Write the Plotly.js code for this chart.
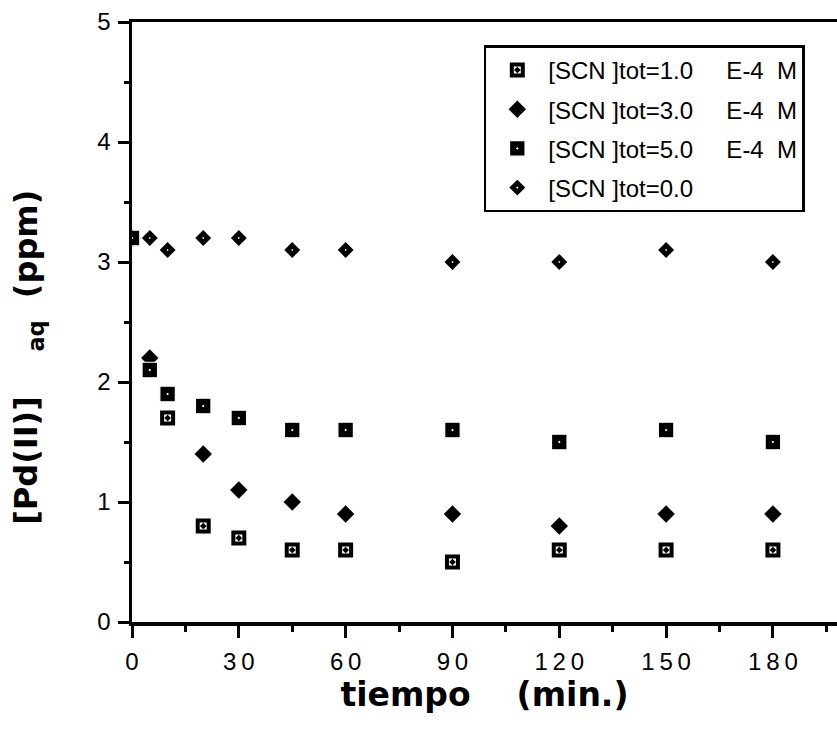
<!DOCTYPE html>
<html>
<head>
<meta charset="utf-8">
<script src="https://cdn.plot.ly/plotly-3.0.1.min.js"></script>
<style>html,body{margin:0;padding:0;background:#fff;}#chart{width:837px;height:739px;}</style>
</head>
<body>
<div id="chart"></div>
<script>
// Data
var time1 = [0, 10, 20, 30, 45, 60, 90, 120, 150, 180];
var conc1 = [3.2, 1.7, 0.8, 0.7, 0.6, 0.6, 0.5, 0.6, 0.6, 0.6];

var time3 = [0, 5, 20, 30, 45, 60, 90, 120, 150, 180];
var conc3 = [3.2, 2.2, 1.4, 1.1, 1.0, 0.9, 0.9, 0.8, 0.9, 0.9];

var time5 = [0, 5, 10, 20, 30, 45, 60, 90, 120, 150, 180];
var conc5 = [3.2, 2.1, 1.9, 1.8, 1.7, 1.6, 1.6, 1.6, 1.5, 1.6, 1.5];

var time0 = [0, 5, 10, 20, 30, 45, 60, 90, 120, 150, 180];
var conc0 = [3.2, 3.2, 3.1, 3.2, 3.2, 3.1, 3.1, 3.0, 3.0, 3.1, 3.0];

var seriesNames = [
  "[SCN ]tot=1.0\u00a0\u00a0\u00a0\u00a0\u00a0E-4\u00a0\u00a0M",
  "[SCN ]tot=3.0\u00a0\u00a0\u00a0\u00a0\u00a0E-4\u00a0\u00a0M",
  "[SCN ]tot=5.0\u00a0\u00a0\u00a0\u00a0\u00a0E-4\u00a0\u00a0M",
  "[SCN ]tot=0.0"
];

var xTickVals = [0, 30, 60, 90, 120, 150, 180];
var xTickText = ["0", "3\u20090", "6\u20090", "9\u20090", "1\u20092\u20090", "1\u20095\u20090", "1\u20098\u20090"];
var yTickVals = [0, 1, 2, 3, 4, 5];
var yTickText = ["0", "1", "2", "3", "4", "5"];

var xTitle = "tiempo\u00a0\u00a0\u00a0\u00a0(min.)";
var yTitle = "[Pd(II)]\u00a0\u00a0\u00a0\u00a0<sub>aq</sub>\u00a0\u00a0(ppm)";

var traces = [
  {
    x: time1, y: conc1, name: seriesNames[0], type: "scatter", mode: "markers",
    legendgroup: "g1", legendrank: 1,
    marker: {symbol: "square-open-dot", size: 11, color: "#000", line: {color: "#000", width: 4}}
  },
  {
    x: time3, y: conc3, name: seriesNames[1], type: "scatter", mode: "markers",
    legendgroup: "g3", legendrank: 2,
    marker: {symbol: "diamond", size: 13, color: "#000", line: {color: "#000", width: 0.5}}
  },
  {
    x: time0, y: conc0, name: seriesNames[3], type: "scatter", mode: "markers",
    legendgroup: "g0", legendrank: 4,
    marker: {symbol: "diamond-open", size: 7, color: "#000", line: {color: "#000", width: 4.8}}
  },
  {
    x: time5, y: conc5, name: seriesNames[2], type: "scatter", mode: "markers",
    legendgroup: "g5", legendrank: 3,
    marker: {symbol: "square-dot", size: 15.5, color: "#000", line: {color: "#fff", width: 1.2}}
  }
];

var layout = {
  width: 837, height: 739,
  margin: {l: 132, r: 0, t: 22, b: 117, pad: 0},
  paper_bgcolor: "#fff", plot_bgcolor: "#fff",
  font: {family: "Liberation Sans, Arial, sans-serif", color: "#000", size: 24},
  showlegend: true,
  legend: {
    x: 0.499, y: 0.961, xanchor: "left", yanchor: "top",
    bgcolor: "#fff", bordercolor: "#000", borderwidth: 2.5,
    font: {family: "Liberation Sans, Arial, sans-serif", size: 24, color: "#000"},
    itemwidth: 52, tracegroupgap: 5, traceorder: "grouped"
  },
  xaxis: {
    range: [0, 198], showgrid: false, zeroline: false,
    showline: true, linecolor: "#000", linewidth: 3.5, mirror: true,
    ticks: "outside", ticklen: 12, tickwidth: 3, tickcolor: "#000",
    tickmode: "array", tickvals: xTickVals, ticktext: xTickText,
    tickfont: {family: "Liberation Sans, Arial, sans-serif", size: 24, color: "#000"},
    ticklabelstandoff: 4,
    minor: {dtick: 15, tick0: 0, ticks: "outside", ticklen: 6, tickwidth: 3, tickcolor: "#000", showgrid: false},
    title: {text: xTitle, font: {family: "DejaVu Sans, sans-serif", size: 33, color: "#000", weight: "bold"}, standoff: 8}
  },
  yaxis: {
    range: [0, 5], showgrid: false, zeroline: false,
    showline: true, linecolor: "#000", linewidth: 3.5, mirror: false,
    ticks: "outside", ticklen: 11, tickwidth: 3, tickcolor: "#000",
    tickmode: "array", tickvals: yTickVals, ticktext: yTickText,
    tickfont: {family: "Liberation Sans, Arial, sans-serif", size: 24, color: "#000"},
    ticklabelstandoff: 2,
    minor: {dtick: 0.5, tick0: 0, ticks: "outside", ticklen: 5, tickwidth: 3, tickcolor: "#000", showgrid: false}
  },
  annotations: [
    {
      xref: "paper", yref: "paper", x: -0.1466, y: 0.4414,
      xanchor: "center", yanchor: "middle", textangle: -90, showarrow: false,
      text: yTitle,
      font: {family: "DejaVu Sans, sans-serif", size: 32, color: "#000", weight: "bold"}
    }
  ]
};

Plotly.newPlot("chart", traces, layout, {displayModeBar: false, staticPlot: true});
</script>
</body>
</html>
